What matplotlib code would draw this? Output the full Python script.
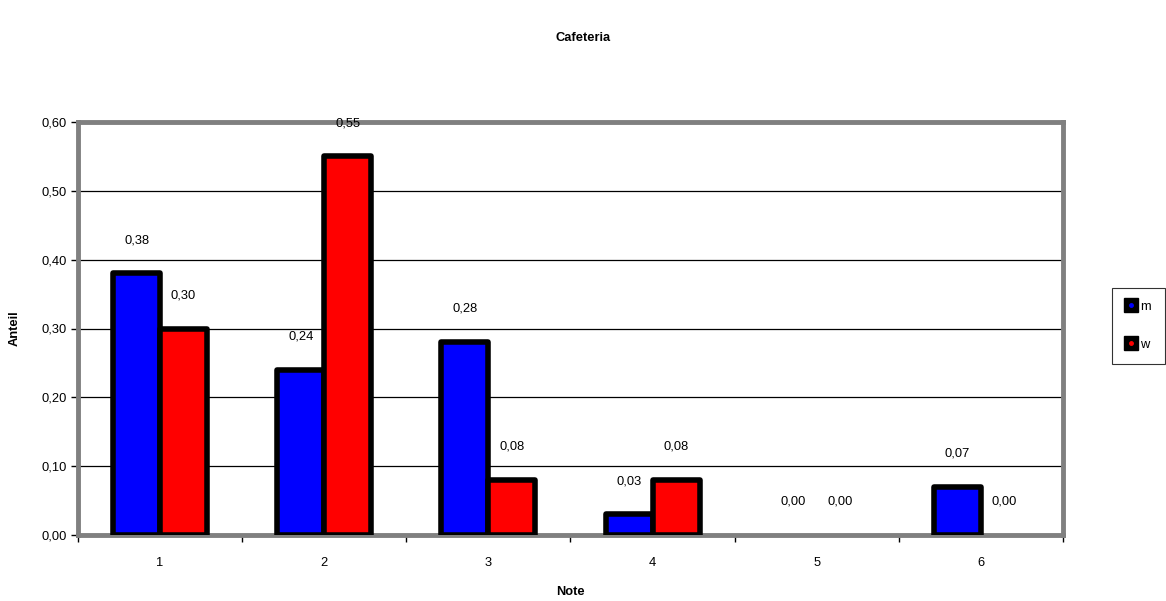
import matplotlib
matplotlib.use("Agg")
import matplotlib.pyplot as plt
from matplotlib.lines import Line2D
import numpy as np

plt.rcParams['font.family'] = ['Liberation Sans', 'DejaVu Sans']

categories = ['1', '2', '3', '4', '5', '6']
m_values = [0.38, 0.24, 0.28, 0.03, 0.00, 0.07]
w_values = [0.30, 0.55, 0.08, 0.08, 0.00, 0.00]
y_ticks = [0.0, 0.1, 0.2, 0.3, 0.4, 0.5, 0.6]
title = 'Cafeteria'
x_label = 'Note'
y_label = 'Anteil'
series_names = ['m', 'w']
colors = ['#0000FF', '#FF0000']

FS = 9.3

fig = plt.figure(figsize=(11.66, 6.01), dpi=100)
ax = fig.add_axes([78/1166, 1-535/601, (1063-78)/1166, (535-122)/601])

x = np.arange(1, len(categories) + 1)
w = 0.286
for vals, off, c in [(m_values, -w/2, colors[0]), (w_values, w/2, colors[1])]:
    bars = ax.bar(x + off, vals, width=w, color=c, edgecolor='black', linewidth=4.0,
                  zorder=3, joinstyle='round')
    for b, v in zip(bars, vals):
        if v == 0:
            b.set_visible(False)
    for xi, v in zip(x + off, vals):
        ax.annotate(f'{v:.2f}'.replace('.', ','), (xi, v), xytext=(0, 24),
                    textcoords='offset points', ha='center', va='center',
                    fontsize=FS, zorder=5)

ax.set_xlim(0.5, len(categories) + 0.5)
ax.set_ylim(0, 0.6)
ax.set_yticks(y_ticks)
ax.set_yticklabels([f'{t:.2f}'.replace('.', ',') for t in y_ticks], fontsize=FS)
ax.set_xticks(x)
ax.set_xticklabels(categories, fontsize=FS)
ax.set_xticks(np.arange(0.5, len(categories) + 1, 1), minor=True)
ax.tick_params(axis='x', which='major', length=0, pad=16)
ax.tick_params(axis='x', which='minor', length=5, width=1, direction='out', color='black')
ax.tick_params(axis='y', length=5, width=1, direction='out', color='black', pad=3)
ax.yaxis.grid(True, color='black', linewidth=0.9, zorder=0)
ax.set_axisbelow(True)
for s in ax.spines.values():
    s.set_color('#808080')
    s.set_linewidth(3.5)

ax.set_xlabel(x_label, fontsize=FS, fontweight='bold', labelpad=12)
ax.set_ylabel(y_label, fontsize=FS, fontweight='bold', labelpad=15)
fig.text(583/1166, 1-38/601, title, ha='center', va='center', fontsize=FS, fontweight='bold')

handles = []
for c in colors:
    handles.append((Line2D([], [], marker='s', markersize=10, color='black', linestyle='none'),
                    Line2D([], [], marker='o', markersize=2.5, color=c, linestyle='none')))
leg = fig.legend(handles, series_names, loc='upper left',
                 bbox_to_anchor=(1112/1166, 1-288/601, 53/1166, 0), mode='expand',
                 fontsize=FS, frameon=True, fancybox=False, edgecolor='black',
                 handlelength=1.0, handletextpad=0.15, labelspacing=2.0,
                 borderpad=1.0, borderaxespad=0)
leg.get_frame().set_linewidth(0.8)

fig.savefig('out.png', dpi=100)
